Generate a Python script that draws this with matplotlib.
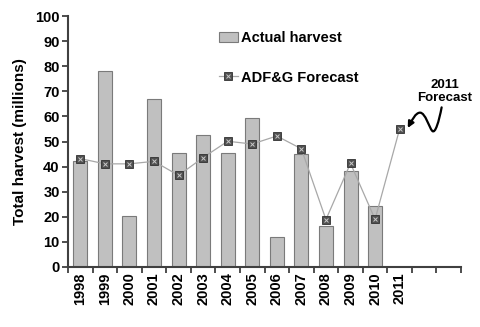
import numpy as np
import matplotlib
matplotlib.use("Agg")
import matplotlib.pyplot as plt
from matplotlib.path import Path
from matplotlib.patches import FancyArrowPatch

plt.rcParams['font.family'] = ['Liberation Sans', 'DejaVu Sans']
plt.rcParams['font.weight'] = 'bold'

years = ['1998', '1999', '2000', '2001', '2002', '2003', '2004', '2005',
         '2006', '2007', '2008', '2009', '2010', '2011']
actual = [42.4, 78, 20.3, 67, 45.4, 52.5, 45.4, 59.3, 11.8, 45.2, 16.2, 38.2, 24.3]
forecast = [43.2, 41.1, 41.1, 42.1, 36.5, 43.6, 50.1, 49.0, 52.2, 47.1, 18.9, 41.3, 19.0, 55.0]
n_slots = 16
yticks = [0, 10, 20, 30, 40, 50, 60, 70, 80, 90, 100]

fig = plt.figure(figsize=(4.8, 3.27), dpi=100)
ax = fig.add_axes([0.1417, 0.1835, 0.8188, 0.7675])

xa = np.arange(len(actual))
xf = np.arange(len(forecast))
bars = ax.bar(xa, actual, width=0.57, color='#c0c0c0', edgecolor='#7a7a7a', linewidth=0.8, zorder=2)
l1, = ax.plot(xf, forecast, color='#a8a8a8', lw=0.9, marker='s', ms=5.5,
              mfc='#505050', mec='#303030', mew=0.6, zorder=3)
l2, = ax.plot(xf, forecast, ls='none', marker='x', ms=3.2, mec='#c8c8c8', mew=0.7, zorder=4)

ax.set_xlim(-0.5, n_slots - 0.5)
ax.set_ylim(0, 100)
ax.set_yticks(yticks)
ax.set_yticklabels([str(v) for v in yticks], fontsize=10.5, fontweight='bold')
ax.set_xticks(np.arange(len(years)))
ax.set_xticklabels(years, rotation=90, fontsize=10.5, fontweight='bold')
ax.tick_params(axis='x', which='major', length=0, pad=4)
ax.set_xticks(np.arange(n_slots + 1) - 0.5, minor=True)
ax.tick_params(axis='x', which='minor', length=4, width=1.3, color='#404040', direction='out')
ax.tick_params(axis='y', length=4, width=1.3, color='#404040', direction='out', pad=2)
for s in ['top', 'right']:
    ax.spines[s].set_visible(False)
for s in ['left', 'bottom']:
    ax.spines[s].set_linewidth(1.5)
    ax.spines[s].set_color('#404040')

ax.set_ylabel('Total harvest (millions)', fontsize=11, fontweight='bold', labelpad=6)

leg = ax.legend([bars, (l1, l2)], ['Actual harvest', 'ADF&G Forecast'],
                loc='upper left', bbox_to_anchor=(0.384, 0.94), frameon=False,
                prop={'size': 10.5, 'weight': 'bold'}, borderpad=0, borderaxespad=0,
                handlelength=1.3, handletextpad=0.2, labelspacing=1.75)

# annotation
ax.text(14.85, 70.1, '2011\nForecast', ha='center', va='center', fontsize=9.5,
        fontweight='bold', linespacing=1.1)
verts = [(14.71, 63.6),
         (14.6, 58), (14.45, 53.0), (14.33, 54.2),
         (14.2, 55.5), (14.05, 61.5), (13.83, 61.5),
         (13.65, 61.5), (13.5, 58.5), (13.33, 55.4)]
codes = [Path.MOVETO] + [Path.CURVE4] * 9
arrow = FancyArrowPatch(path=Path(verts, codes), arrowstyle='-|>', mutation_scale=9,
                        color='black', lw=1.6, clip_on=False, zorder=5)
ax.add_patch(arrow)

fig.savefig('out.png', dpi=100)
